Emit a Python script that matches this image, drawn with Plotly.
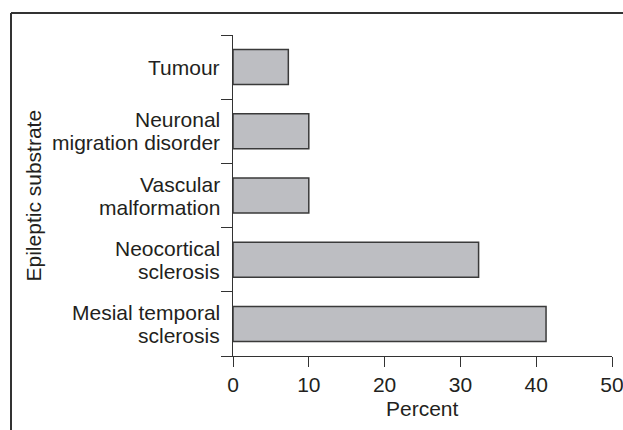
import plotly.graph_objects as go

categories = ["Mesial temporal<br>sclerosis", "Neocortical<br>sclerosis",
              "Vascular<br>malformation", "Neuronal<br>migration disorder", "Tumour"]
percent = [41.3, 32.4, 10.0, 10.0, 7.3]
x_ticks = [0, 10, 20, 30, 40, 50]
x_title = "Percent"
y_title = "Epileptic substrate"

W, H = 623, 430
L, R, T, B = 233, 11, 35, 74
pw, ph = W - L - R, H - T - B
font = "Liberation Sans, Arial, Helvetica, sans-serif"
txt = "#231f20"
line = "#333333"
fs = 21

fig = go.Figure(go.Bar(
    y=categories, x=percent, orientation="h",
    marker=dict(color="#bdbec2", line=dict(color="#3a3a3a", width=1.5)),
))

annotations = []
step = 23
for c in categories:
    parts = c.split("<br>")
    n = len(parts)
    for i, p in enumerate(parts):
        annotations.append(dict(
            x=0, xref="paper", y=c, yref="y", text=p, showarrow=False,
            xanchor="right", yanchor="middle", xshift=-11,
            yshift=((n - 1) / 2 - i) * step,
            font=dict(family=font, size=fs, color=txt)))

annotations.append(dict(x=(33 - L) / pw, xref="paper", y=0.5, yref="paper",
                        text=y_title, textangle=-90, showarrow=False,
                        xanchor="center", yanchor="middle",
                        font=dict(family=font, size=fs, color=txt)))
annotations.append(dict(x=0.5, xref="paper", y=(356 - 409) / ph, yref="paper",
                        text=x_title, showarrow=False,
                        xanchor="center", yanchor="middle",
                        font=dict(family=font, size=fs, color=txt)))

fx = (11 - L) / pw
fy = 1 + (T - 13) / ph
shapes = [
    dict(type="line", xref="paper", yref="paper", x0=fx, y0=fy, x1=1 + (R + 5) / pw, y1=fy,
         line=dict(color=line, width=2)),
    dict(type="line", xref="paper", yref="paper", x0=fx, y0=fy, x1=fx, y1=-(B + 5) / ph,
         line=dict(color=line, width=2)),
]

fig.update_layout(
    width=W, height=H,
    margin=dict(l=L, r=R, t=T, b=B, autoexpand=False),
    paper_bgcolor="white", plot_bgcolor="white",
    bargap=0.455, showlegend=False,
    annotations=annotations, shapes=shapes,
    font=dict(family=font, size=fs, color=txt),
)
fig.update_xaxes(range=[0, 50], tickvals=x_ticks, ticks="outside", ticklen=10,
                 tickwidth=1.3, tickcolor=line, showline=True, linecolor=line,
                 linewidth=1.3, showgrid=False, zeroline=False, automargin=False,
                 ticklabeloverflow="allow",
                 tickfont=dict(family=font, size=fs, color=txt))
fig.update_yaxes(type="category", categoryorder="array", categoryarray=categories,
                 ticks="outside", tickson="boundaries", ticklen=11, tickwidth=1.3,
                 tickcolor=line, showline=True, linecolor=line, linewidth=1.3,
                 showgrid=False, showticklabels=False, automargin=False)

fig.write_html("out.html", config={"displayModeBar": False},
               post_script="document.body.style.margin='0';document.body.style.overflow='hidden';")
